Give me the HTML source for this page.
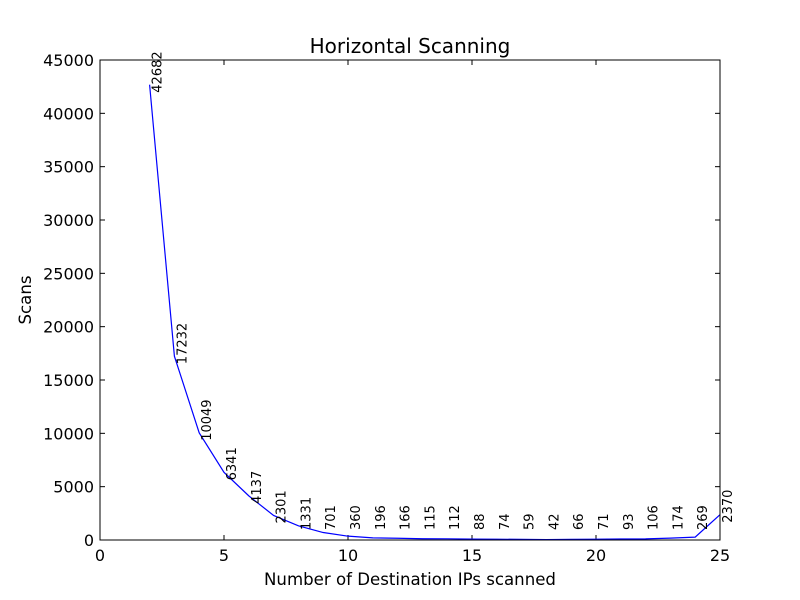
<!DOCTYPE html>
<html><head><meta charset="utf-8"><style>body{margin:0;background:#fff}svg{display:block;font-family:"DejaVu Sans","Liberation Sans",sans-serif}</style></head>
<body>
<svg id="chart" width="800" height="600">
<rect width="800" height="600" fill="#fff"/>
<g id="grid"></g>
<polyline id="line" fill="none" stroke="#0000ff" stroke-width="1.2"/>
<g id="labels"></g>
<rect x="100" y="60" width="620" height="480" fill="none" stroke="#000" stroke-width="1"/>
<text x="410" y="53" text-anchor="middle" font-size="20">Horizontal Scanning</text>
<text x="410" y="585" text-anchor="middle" font-size="16.6">Number of Destination IPs scanned</text>
<text transform="translate(31,300) rotate(-90)" text-anchor="middle" font-size="16.6">Scans</text>
</svg>
<script>
const xs = [2,3,4,5,6,7,8,9,10,11,12,13,14,15,16,17,18,19,20,21,22,23,24,25];
const scans = [42682,17232,10049,6341,4137,2301,1331,701,360,196,166,115,112,88,74,59,42,66,71,93,106,174,269,2370];
const xTicks = [0,5,10,15,20,25];
const yTicks = [0,5000,10000,15000,20000,25000,30000,35000,40000,45000];
const NS="http://www.w3.org/2000/svg";
const X = v => 100 + v/25*620;
const Y = v => 540 - v/45000*480;
const g = document.getElementById('grid'), lb = document.getElementById('labels');
function mk(tag, attrs, parent, txt){const e=document.createElementNS(NS,tag);for(const k in attrs)e.setAttribute(k,attrs[k]);if(txt!==undefined)e.textContent=txt;parent.appendChild(e);return e;}
xTicks.forEach(t=>{
  const x=X(t);
  const a=mk('line',{x1:x,y1:540,x2:x,y2:535,stroke:'#000'},g);
  
  
  const b=mk('line',{x1:x,y1:60,x2:x,y2:65,stroke:'#000'},g);
  
  
  const l=mk('text',{x:x,y:561,'text-anchor':'middle','font-size':16},g,t);
  
  
});
yTicks.forEach(t=>{
  const y=Y(t);
  const a=mk('line',{x1:100,y1:y,x2:105,y2:y,stroke:'#000'},g);
  
  
  const b=mk('line',{x1:720,y1:y,x2:715,y2:y,stroke:'#000'},g);
  
  
  const l=mk('text',{x:94,y:y+6,'text-anchor':'end','font-size':16},g,t);
  
  
});
document.getElementById('line').setAttribute('points', xs.map((x,i)=>X(x)+','+Y(scans[i])).join(' '));
xs.forEach((x,i)=>{
  const px=X(x)+12, py=Math.min(Y(scans[i])+8,530);
  const t=mk('text',{transform:`translate(${px},${py}) rotate(-90)`,'font-size':13},lb,scans[i]);
  
  
});
</script>
</body></html>
